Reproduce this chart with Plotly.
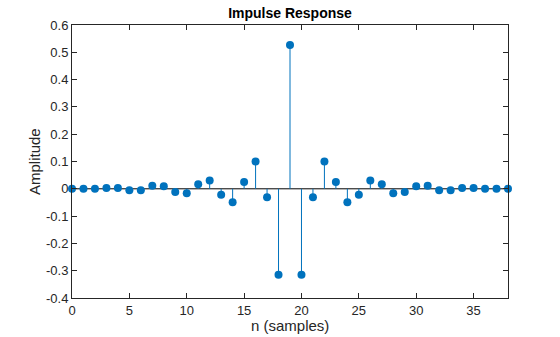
import plotly.graph_objects as go

# Filter taps (impulse response), n = 0..38
n = list(range(39))
h = [0.0, 0.0, 0.0, 0.003, 0.003, -0.005, -0.005, 0.011, 0.009, -0.012,
     -0.016, 0.017, 0.030, -0.022, -0.049, 0.025, 0.100, -0.031, -0.315, 0.527,
     -0.315, -0.031, 0.100, 0.025, -0.049, -0.022, 0.030, 0.017, -0.016, -0.012,
     0.009, 0.011, -0.005, -0.005, 0.003, 0.003, 0.0, 0.0, 0.0]

x_ticks = [0, 5, 10, 15, 20, 25, 30, 35]
y_ticks = [-0.4, -0.3, -0.2, -0.1, 0, 0.1, 0.2, 0.3, 0.4, 0.5, 0.6]
y_labels = ["-0.4", "-0.3", "-0.2", "-0.1", "0", "0.1", "0.2", "0.3", "0.4", "0.5", "0.6"]

blue = "#0072BD"
axis_col = "#262626"
font = "Liberation Sans, Arial, sans-serif"

# Stems: vertical segments from 0 to each sample value
sx, sy = [], []
for xi, yi in zip(n, h):
    sx += [xi, xi, None]
    sy += [0, yi, None]

fig = go.Figure()
fig.add_trace(go.Scatter(x=[n[0], n[-1]], y=[0, 0], mode="lines",
                         line=dict(color="#000000", width=1), hoverinfo="skip"))
fig.add_trace(go.Scatter(x=sx, y=sy, mode="lines",
                         line=dict(color=blue, width=1), hoverinfo="skip"))
fig.add_trace(go.Scatter(x=n, y=h, mode="markers", cliponaxis=False,
                         marker=dict(color=blue, size=8, line=dict(width=0))))

fig.update_layout(
    width=560, height=337,
    margin=dict(l=72, r=52, t=25, b=39, autoexpand=False),
    paper_bgcolor="white", plot_bgcolor="white",
    showlegend=False,
    font=dict(family=font, size=13, color=axis_col),
    title=dict(text="<b>Impulse Response</b>", x=0.5, xref="paper", xanchor="center",
               y=1 - 13 / 337, yanchor="middle",
               font=dict(family=font, size=14, color="#000000")),
    annotations=[
        dict(text="n (samples)", xref="paper", yref="paper", x=0.5, y=-27 / 273,
             xanchor="center", yanchor="middle", showarrow=False,
             font=dict(size=15, color=axis_col)),
        dict(text="Amplitude", xref="paper", yref="paper", x=-27 / 436, y=0.5,
             xanchor="right", yanchor="middle", textangle=-90, showarrow=False,
             font=dict(size=15, color=axis_col)),
    ],
)
fig.update_xaxes(
    range=[0, 38], tickvals=x_ticks, ticktext=[str(v) for v in x_ticks],
    ticks="inside", ticklen=5, tickcolor=axis_col, mirror="allticks",
    showline=True, linecolor=axis_col, linewidth=1, showgrid=False, zeroline=False,
    automargin=False,
)
fig.update_yaxes(
    range=[-0.4, 0.6], tickvals=y_ticks, ticktext=y_labels,
    ticks="inside", ticklen=5, tickcolor=axis_col, mirror="allticks",
    showline=True, linecolor=axis_col, linewidth=1, showgrid=False, zeroline=False,
    automargin=False,
)

fig.write_html("out.html")
